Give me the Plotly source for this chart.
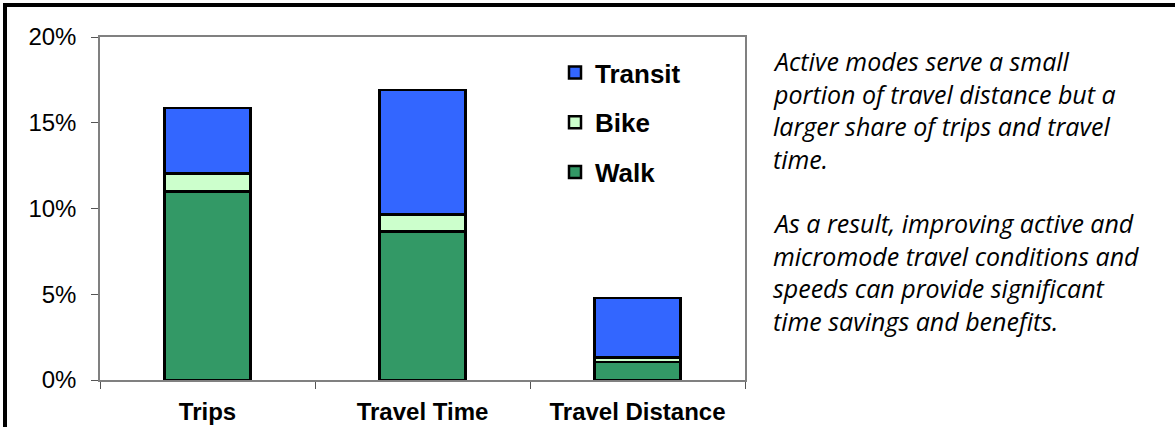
import plotly.graph_objects as go

categories = ["Trips", "Travel Time", "Travel Distance"]
walk = [11.0, 8.65, 1.05]
bike = [1.05, 1.0, 0.27]
transit = [3.8, 7.25, 3.45]

colors = {"Walk": "#339966", "Bike": "#CCFFCC", "Transit": "#3366FF"}
ranks = {"Transit": 1, "Bike": 2, "Walk": 3}

note_lines_1 = ["Active modes serve a small", "portion of travel distance but a",
                "larger share of trips and travel", "time."]
note_lines_2 = ["As a result, improving active and", "micromode travel conditions and",
                "speeds can provide significant", "time savings and benefits."]

W, H = 1175, 427
L, R, T, B = 100, 745, 37, 380

fig = go.Figure()
for name, vals in [("Walk", walk), ("Bike", bike), ("Transit", transit)]:
    fig.add_trace(go.Bar(
        x=categories, y=vals, name=name, legendgroup=name, legendrank=ranks[name],
        marker=dict(color=colors[name], line=dict(color="black", width=2.5)),
        width=0.4,
    ))

def px_x(p):
    return (p - L) / (R - L)

def px_y(p):
    return (B - p) / (B - T)

shapes = [
    dict(type="line", xref="paper", yref="paper", x0=px_x(5), x1=px_x(5), y0=px_y(3), y1=px_y(430),
         line=dict(color="black", width=4)),
    dict(type="line", xref="paper", yref="paper", x0=px_x(3), x1=px_x(1180), y0=px_y(5), y1=px_y(5),
         line=dict(color="black", width=4)),
]

annotations = []
note_font = dict(family="Open Sans, Noto Sans, sans-serif", size=25, color="black")
y0 = 61
for i, line in enumerate(note_lines_1):
    annotations.append(dict(xref="paper", yref="paper", x=px_x(771), y=px_y(y0 + i * 32.5),
                            xanchor="left", yanchor="middle", showarrow=False,
                            text="<i>" + line + "</i>", font=note_font))
y1 = 223
for i, line in enumerate(note_lines_2):
    annotations.append(dict(xref="paper", yref="paper", x=px_x(771), y=px_y(y1 + i * 32.5),
                            xanchor="left", yanchor="middle", showarrow=False,
                            text="<i>" + line + "</i>", font=note_font))

fig.update_layout(
    width=W, height=H,
    margin=dict(l=L, r=W - R, t=T, b=H - B, pad=0, autoexpand=False),
    barmode="stack",
    paper_bgcolor="white", plot_bgcolor="white",
    font=dict(family="Arial, Liberation Sans, sans-serif", color="black"),
    showlegend=True,
    legend=dict(x=px_x(555), y=px_y(49), xanchor="left", yanchor="top",
                traceorder="grouped", tracegroupgap=13,
                font=dict(size=26, family="Arial, Liberation Sans, sans-serif", color="black", weight="bold"),
                bgcolor="rgba(0,0,0,0)"),
    shapes=shapes,
    annotations=annotations,
)
fig.update_yaxes(range=[0, 20], dtick=5, ticksuffix="%", ticks="outside", ticklen=7,
                 tickcolor="#555555", showline=True, linecolor="#808080", linewidth=1.5,
                 mirror=True, showgrid=False, zeroline=False, ticklabelstandoff=10,
                 automargin=False,
                 tickfont=dict(size=24, family="Arial, Liberation Sans, sans-serif"))
fig.update_xaxes(ticks="outside", tickson="boundaries", ticklen=7, tickcolor="#555555",
                 showline=True, linecolor="#808080", linewidth=1.5, mirror=True,
                 showgrid=False, ticklabelstandoff=9, automargin=False,
                 tickfont=dict(size=24, family="Arial, Liberation Sans, sans-serif", weight="bold"))

fig.write_html("out.html", config={"displayModeBar": False},
               post_script="document.body.style.margin='0';document.body.style.overflow='hidden';")
